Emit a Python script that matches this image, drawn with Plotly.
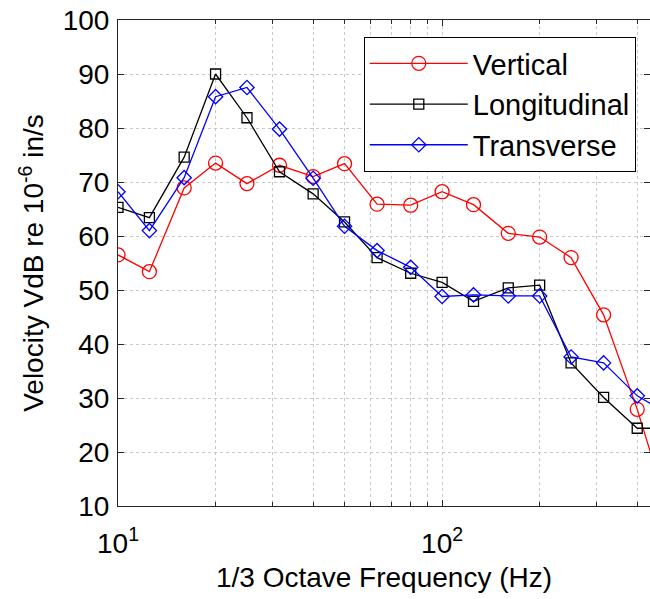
import plotly.graph_objects as go
import numpy as np

freq = [10, 12.5, 16, 20, 25, 31.5, 40, 50, 63, 80, 100, 125, 160, 200, 250, 315, 400, 500]
vertical = [56.5, 53.4, 68.9, 73.5, 69.7, 73.1, 71.0, 73.4, 65.9, 65.7, 68.2, 65.8, 60.5, 59.8, 56.0, 45.4, 27.9, 9.0]
longitudinal = [65.3, 63.4, 74.6, 90.0, 81.9, 71.9, 67.8, 62.6, 56.0, 53.1, 51.4, 47.9, 50.4, 50.9, 36.5, 30.1, 24.4, 24.4]
transverse = [68.2, 61.0, 70.8, 85.8, 87.5, 79.8, 70.7, 61.8, 57.3, 54.2, 48.8, 49.1, 48.9, 48.9, 37.6, 36.5, 30.4, 27.0]

FONT = "Liberation Sans, Arial, sans-serif"

fig = go.Figure()
fig.add_trace(go.Scatter(x=freq, y=vertical, name="Vertical", mode="lines+markers",
                         line=dict(color="#ff0000", width=1.3),
                         marker=dict(symbol="circle-open", size=14, color="#ff0000", line=dict(width=1.3))))
fig.add_trace(go.Scatter(x=freq, y=longitudinal, name="Longitudinal", mode="lines+markers",
                         line=dict(color="#000000", width=1.3),
                         marker=dict(symbol="square-open", size=10, color="#000000", line=dict(width=1.3))))
fig.add_trace(go.Scatter(x=freq, y=transverse, name="Transverse", mode="lines+markers",
                         line=dict(color="#0000ff", width=1.3),
                         marker=dict(symbol="diamond-open", size=11, color="#0000ff", line=dict(width=1.3))))

minor_x = [v * d for d in (10, 100) for v in range(2, 10)]

fig.update_layout(
    width=650, height=599,
    margin=dict(l=118, r=0, t=20, b=93),
    paper_bgcolor="white", plot_bgcolor="white",
    font=dict(family=FONT, size=28, color="black"),
    showlegend=True,
    legend=dict(x=0.462, y=0.965, xanchor="left", yanchor="top",
                bgcolor="white", bordercolor="black", borderwidth=1,
                itemwidth=98,
                font=dict(family=FONT, size=29, color="black")),
)
fig.update_xaxes(
    type="log", range=[1, np.log10(438)],
    tickvals=[10, 100], ticktext=["10<sup>1</sup>", "10<sup>2</sup>"],
    ticks="inside", ticklen=6, tickcolor="#262626",
    showline=True, linecolor="#262626", linewidth=1, mirror="allticks",
    showgrid=True, gridcolor="#c8c8c8", griddash="dot", gridwidth=1,
    minor=dict(tickvals=minor_x, ticks="inside", ticklen=4, tickcolor="#262626",
               showgrid=True, gridcolor="#c8c8c8", griddash="dot", gridwidth=1),
    tickfont=dict(size=28),
    ticklabelstandoff=12,
    title=dict(text="1/3 Octave Frequency (Hz)", font=dict(size=28), standoff=9),
    zeroline=False,
)
fig.update_yaxes(
    range=[10, 100], dtick=10,
    ticks="inside", ticklen=6, tickcolor="#262626",
    showline=True, linecolor="#262626", linewidth=1, mirror="ticks",
    showgrid=True, gridcolor="#c8c8c8", griddash="dot", gridwidth=1,
    tickfont=dict(size=28),
    ticklabelstandoff=2,
    title=dict(text="Velocity VdB re 10<sup>-6</sup> in/s", font=dict(size=28), standoff=10),
    zeroline=False,
)

fig.write_html("out.html")
